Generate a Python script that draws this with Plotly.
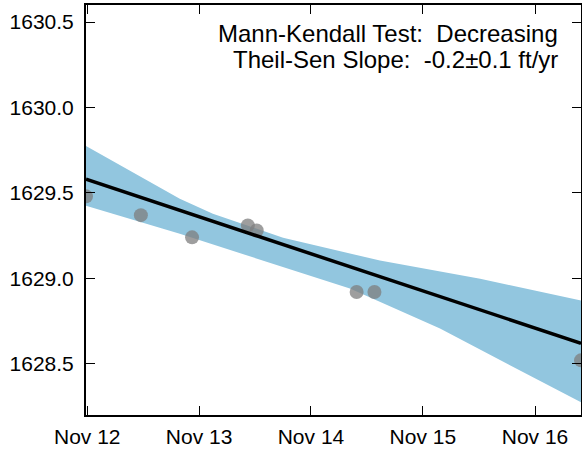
import plotly.graph_objects as go

# observed data
obs_dates = ["2012-10-28", "2013-04-25", "2013-10-09", "2014-04-09",
             "2014-05-08", "2015-03-30", "2015-05-27", "2017-03-31"]
obs_values = [1629.48, 1629.37, 1629.24, 1629.31, 1629.28, 1628.92, 1628.92, 1628.52]

# Theil-Sen trend line endpoints
trend_dates = ["2012-10-28", "2017-03-31"]
trend_values = [1629.58, 1628.62]

# confidence band edges
upper_dates = ["2012-10-28", "2013-08-30", "2013-12-16", "2014-08-02",
               "2015-06-14", "2016-05-06", "2017-03-31"]
upper_values = [1629.775, 1629.466, 1629.378, 1629.238, 1629.104, 1628.998, 1628.870]
lower_dates = ["2012-10-28", "2013-08-30", "2015-03-08", "2015-12-27", "2017-03-31"]
lower_values = [1629.425, 1629.261, 1628.940, 1628.706, 1628.274]

x_tickvals = ["2012-11-01", "2013-11-01", "2014-11-01", "2015-11-01", "2016-11-01"]
x_ticktext = ["Nov 12", "Nov 13", "Nov 14", "Nov 15", "Nov 16"]
y_tickvals = [1628.5, 1629.0, 1629.5, 1630.0, 1630.5]

annot_lines = ["Mann-Kendall Test:\u00a0 Decreasing",
               "Theil-Sen Slope:\u00a0 -0.2±0.1 ft/yr"]

FONT = "Liberation Sans, Arial, sans-serif"

fig = go.Figure()
fig.add_trace(go.Scatter(
    x=upper_dates + lower_dates[::-1],
    y=upper_values + lower_values[::-1],
    fill="toself", fillcolor="#92c6df", line=dict(width=0),
    mode="lines", hoverinfo="skip", showlegend=False))
fig.add_trace(go.Scatter(
    x=obs_dates, y=obs_values, mode="markers",
    marker=dict(size=14, color="rgba(125,125,125,0.75)", line=dict(width=0)),
    showlegend=False))
fig.add_trace(go.Scatter(
    x=trend_dates, y=trend_values, mode="lines",
    line=dict(color="black", width=3.5), showlegend=False))

for txt, yp in zip(annot_lines, [0.9300, 0.8659]):
    fig.add_annotation(
        xref="paper", yref="paper", x=0.9556, y=yp, xanchor="right", yanchor="middle",
        align="right", showarrow=False, borderpad=0, text=txt,
        font=dict(family=FONT, size=24, color="black"))

axis_common = dict(showline=True, linecolor="black", linewidth=2, mirror="ticks",
                   ticks="inside", ticklen=9, tickwidth=1.2, tickcolor="black",
                   showgrid=False, zeroline=False, automargin=False,
                   tickfont=dict(family=FONT, size=21, color="black"))

fig.update_xaxes(type="date", range=["2012-10-28", "2017-03-31"],
                 tickvals=x_tickvals, ticktext=x_ticktext,
                 ticklabelstandoff=2, **axis_common)
fig.update_yaxes(range=[1628.2, 1630.6], tickvals=y_tickvals, tickformat=".1f",
                 ticklabelstandoff=6, **axis_common)

fig.update_layout(width=582, height=450, template="none",
                  margin=dict(l=86, r=1, t=5, b=35),
                  paper_bgcolor="white", plot_bgcolor="white",
                  font=dict(family=FONT, size=21, color="black"))

fig.write_html("out.html", config={"displayModeBar": False},
               post_script="document.body.style.margin='0';")
